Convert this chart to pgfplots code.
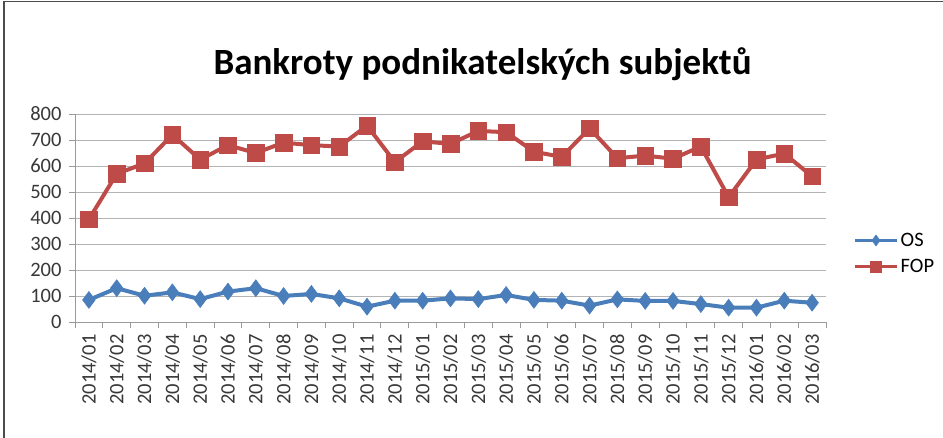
\documentclass[border=0pt]{standalone}
\usepackage{pgfplots}
\pgfplotsset{compat=1.18}
\usepackage{fontspec}
\setmainfont{Carlito}
\definecolor{osblue}{HTML}{4A7EBB}
\definecolor{fopred}{HTML}{BE4B48}
\definecolor{gridc}{HTML}{B4B4B4}
\definecolor{axc}{HTML}{9A9A9A}
\begin{document}
\begin{tikzpicture}
\path[use as bounding box] (-75bp,-116bp) rectangle (868bp,322bp);
\draw[color=black!70, line width=1.5bp] (-71bp,-116bp) -- (-71bp,320.5bp) -- (868bp,320.5bp);
\begin{axis}[
  at={(0,0)}, anchor=south west,
  scale only axis, width=751bp, height=208bp,
  xmin=-0.5, xmax=26.5, ymin=0, ymax=800,
  axis x line*=bottom, axis y line*=left,
  axis line style={color=axc, line width=1bp},
  xtick={0,...,26},
  xticklabels={2014/01,2014/02,2014/03,2014/04,2014/05,2014/06,2014/07,2014/08,2014/09,2014/10,2014/11,2014/12,2015/01,2015/02,2015/03,2015/04,2015/05,2015/06,2015/07,2015/08,2015/09,2015/10,2015/11,2015/12,2016/01,2016/02,2016/03},
  minor xtick={-0.5,0.5,...,26.5},
  ytick={0,100,...,800},
  ymajorgrids, major grid style={color=gridc, line width=1bp},
  tick align=outside,
  x tick style={draw=none},
  minor x tick style={draw=axc, line width=1bp},
  y tick style={draw=axc, line width=1bp},
  major tick length=6bp, minor tick length=6bp,
  tick label style={font=\fontsize{20.5bp}{24bp}\selectfont, color=black!78},
  /pgf/number format/assume math mode=true,
  xticklabel style={rotate=90, anchor=east, yshift=0bp, xshift=-3bp},
  yticklabel style={xshift=-4bp},
  title={Bankroty podnikatelských subjektů},
  title style={font=\fontsize{37bp}{44bp}\selectfont\bfseries, at={(0.5426,1)}, anchor=base, yshift=34bp},
  legend style={draw=none, fill=none, at={(1.036,0.33)}, anchor=west,
    font=\fontsize{20.5bp}{24bp}\selectfont, row sep=7bp, inner sep=0pt,
    /tikz/every even column/.append style={column sep=2bp}},
  legend cell align=left,
  legend image code/.code={\draw[mark repeat=2,mark phase=2,#1, line width=3.5bp, mark size=5.5bp] plot coordinates {(0bp,0bp)(21bp,0bp)(42bp,0bp)};},
]
\addplot[color=osblue, line width=4bp, mark=diamond*, mark size=8.5bp, mark options={fill=osblue, draw=osblue, line width=0.5bp}]
coordinates {(0,85)(1,130)(2,101)(3,114)(4,88)(5,117)(6,130)(7,100)(8,108)(9,91)(10,59)(11,82)(12,82)(13,91)(14,88)(15,104)(16,85)(17,82)(18,63)(19,87)(20,81)(21,81)(22,69)(23,55)(24,55)(25,82)(26,74)};
\addlegendentry{OS}
\addplot[color=fopred, line width=4bp, mark=square*, mark size=8.3bp, mark options={fill=fopred, draw=fopred, line width=0.5bp}]
coordinates {(0,395)(1,570)(2,610)(3,720)(4,625)(5,680)(6,650)(7,690)(8,680)(9,675)(10,755)(11,615)(12,695)(13,685)(14,735)(15,730)(16,655)(17,635)(18,745)(19,630)(20,640)(21,628)(22,675)(23,480)(24,625)(25,648)(26,560)};
\addlegendentry{FOP}
\end{axis}
\end{tikzpicture}
\end{document}
